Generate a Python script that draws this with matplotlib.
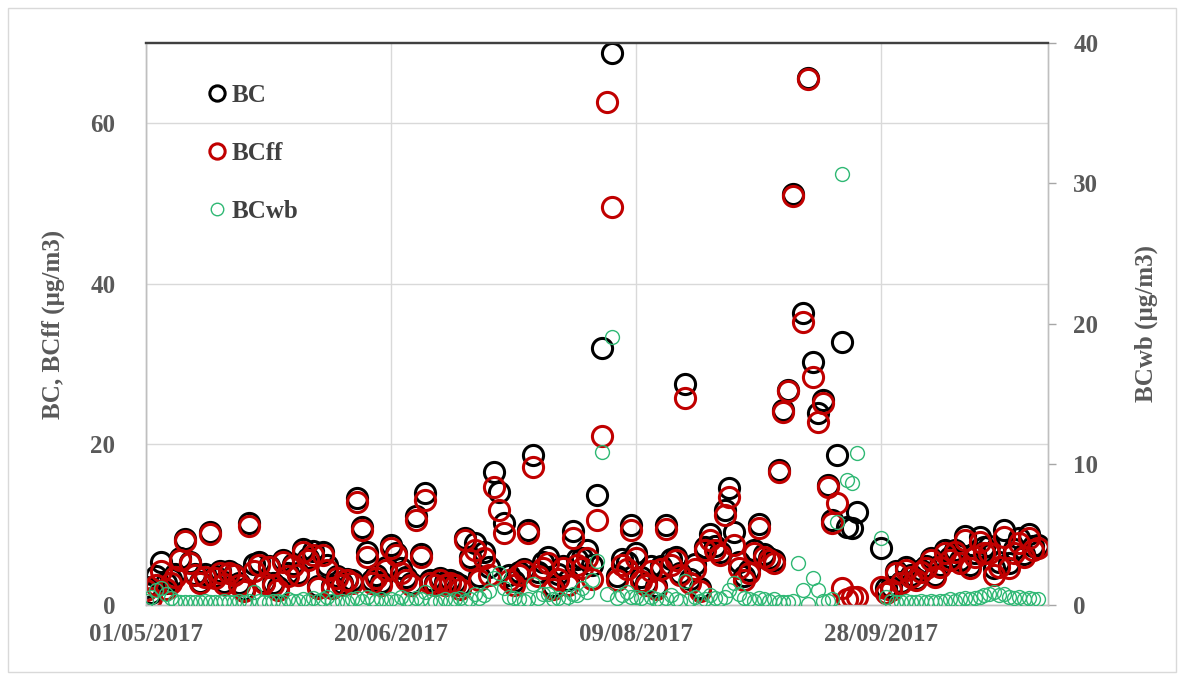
import numpy as np
import pandas as pd
import matplotlib
matplotlib.use("Agg")
import matplotlib.pyplot as plt
import matplotlib.dates as mdates
from matplotlib.lines import Line2D
from matplotlib.patches import Rectangle

# ─── DATA (daily, 01/05/2017 .. 30/10/2017, nan = no measurement) ──────────────
nan = np.nan
dates = pd.date_range("2017-05-01", "2017-10-30", freq="D")

bc = [
    2.2, 1.5, 3.6, 5.4, 2.8, 3.2, 3.8, 5.8, 8.2, 5.4,
    3.9, 2.9, 3.8, 9.1, 3.6, 4.2, 2.9, 4.2, 3.9, 2.8,
    2.0, 10.2, 5.1, 5.3, 2.9, 4.9, 2.8, 2.2, 5.6, 4.0,
    5.1, 4.0, 7.0, 5.9, 6.7, 2.4, 6.6, 5.0, 2.4, 3.6,
    2.8, 3.3, 3.1, 13.3, 9.7, 6.6, 3.1, 3.7, 2.9, 4.7,
    7.5, 6.5, 4.6, 3.5, 2.8, 11.1, 6.4, 14.0, 3.1, 2.7,
    3.4, 2.9, 3.1, 2.9, 2.5, 8.4, 6.0, 7.7, 3.6, 6.6,
    4.7, 16.6, 14.1, 10.2, 3.7, 3.0, 4.1, 4.5, 9.4, 18.7,
    4.1, 5.4, 6.0, 2.4, 3.8, 4.9, 3.1, 9.2, 5.7, 5.8,
    6.8, 5.0, 13.7, 32.0, nan, 68.7, 3.6, 5.7, 5.4, 10.0,
    6.5, 3.5, 2.8, 4.8, 2.4, 4.8, 10.0, 5.7, 6.0, 4.0,
    27.5, 3.2, 5.1, 2.1, 7.2, 8.8, 7.4, 6.6, 11.8, 14.6,
    9.1, 5.4, 3.6, 4.4, 6.8, 10.1, 6.4, 5.9, 5.6, 16.8,
    24.3, 26.8, 51.2, nan, 36.4, 65.6, 30.3, 23.9, 25.5, 15.0,
    10.6, 18.7, 32.8, 9.7, 9.6, 11.6, nan, nan, nan, nan,
    7.1, 2.1, 2.2, 4.2, 2.9, 4.7, 3.7, 3.3, 4.4, 4.8,
    5.9, 3.7, 5.0, 6.8, 6.0, 6.9, 5.6, 8.6, 5.0, 6.5,
    8.5, 7.2, 7.3, 4.6, 5.4, 9.3, 5.2, 7.0, 8.3, 6.4,
    8.9, 7.3, 7.5,
]

bcff = [
    1.9, 0.9, 2.5, 4.2, 2.0, 2.7, 3.5, 5.6, 8.0, 5.2,
    3.7, 2.7, 3.5, 8.9, 3.4, 4.0, 2.6, 4.0, 3.7, 2.5,
    1.8, 9.9, 4.2, 5.0, 2.7, 4.7, 2.5, 1.9, 5.4, 3.6,
    4.8, 3.7, 6.6, 5.6, 6.2, 2.1, 6.2, 4.4, 2.1, 3.4,
    2.5, 3.1, 2.7, 12.8, 9.4, 6.0, 2.7, 3.4, 2.5, 4.4,
    7.1, 6.2, 4.0, 3.1, 2.5, 10.6, 6.0, 13.1, 2.8, 2.5,
    3.1, 2.5, 2.8, 2.5, 2.0, 8.1, 5.6, 6.9, 3.1, 5.9,
    3.7, 14.7, 11.8, 9.0, 3.1, 2.5, 3.7, 4.2, 9.0, 17.2,
    3.6, 4.6, 5.2, 2.0, 3.3, 4.6, 2.5, 8.4, 5.0, 4.6,
    5.9, 3.2, 10.6, 21.0, 62.7, 49.6, 3.1, 5.0, 4.5, 9.4,
    5.9, 3.0, 2.5, 4.2, 2.0, 4.5, 9.5, 5.0, 5.6, 3.7,
    25.8, 2.8, 4.5, 1.8, 6.8, 8.1, 6.9, 6.2, 11.2, 13.5,
    7.5, 4.6, 3.1, 4.0, 6.5, 9.6, 6.0, 5.6, 5.2, 16.6,
    24.1, 26.6, 50.9, nan, 35.3, 65.5, 28.4, 22.8, 25.2, 14.7,
    10.2, 12.7, 2.1, 0.8, 1.0, 1.0, nan, nan, nan, nan,
    2.2, 1.5, 1.9, 4.0, 2.7, 4.4, 3.5, 3.1, 4.1, 4.6,
    5.6, 3.5, 4.7, 6.5, 5.6, 6.6, 5.2, 8.1, 4.6, 6.0,
    7.9, 6.5, 6.5, 3.7, 4.7, 8.5, 4.6, 6.5, 7.7, 6.0,
    8.4, 6.9, 7.1,
]

bcwb = [
    0.3, 0.6, 1.1, 1.2, 0.8, 0.5, 0.3, 0.2, 0.2, 0.2,
    0.2, 0.2, 0.3, 0.2, 0.2, 0.2, 0.3, 0.2, 0.2, 0.3,
    0.2, 0.3, 0.9, 0.3, 0.2, 0.2, 0.3, 0.3, 0.2, 0.4,
    0.3, 0.3, 0.4, 0.3, 0.5, 0.3, 0.4, 0.6, 0.3, 0.2,
    0.3, 0.2, 0.4, 0.5, 0.3, 0.6, 0.4, 0.3, 0.4, 0.3,
    0.4, 0.3, 0.6, 0.4, 0.3, 0.5, 0.4, 0.9, 0.3, 0.2,
    0.3, 0.4, 0.3, 0.4, 0.5, 0.3, 0.4, 0.8, 0.5, 0.7,
    1.0, 1.9, 2.3, 1.2, 0.6, 0.5, 0.4, 0.3, 0.4, 1.5,
    0.5, 0.8, 0.8, 0.4, 0.5, 0.3, 0.6, 0.8, 0.7, 1.2,
    0.9, 1.8, 3.1, 10.9, 0.8, 19.1, 0.5, 0.7, 0.9, 0.6,
    0.6, 0.5, 0.3, 0.6, 0.4, 0.3, 0.5, 0.7, 0.4, 0.3,
    1.7, 0.4, 0.6, 0.3, 0.4, 0.7, 0.5, 0.4, 0.6, 1.1,
    1.6, 0.8, 0.5, 0.4, 0.3, 0.5, 0.4, 0.3, 0.4, 0.2,
    0.2, 0.2, 0.3, 3.0, 1.1, 0.1, 1.9, 1.1, 0.3, 0.3,
    0.4, 5.9, 30.7, 8.9, 8.7, 10.8, nan, nan, nan, nan,
    4.8, 0.6, 0.3, 0.2, 0.2, 0.3, 0.2, 0.2, 0.3, 0.2,
    0.3, 0.2, 0.3, 0.3, 0.4, 0.3, 0.4, 0.5, 0.4, 0.5,
    0.6, 0.7, 0.8, 0.9, 0.7, 0.8, 0.6, 0.5, 0.6, 0.4,
    0.5, 0.4, 0.4,
]

tick_dates = pd.to_datetime(["2017-05-01", "2017-06-20", "2017-08-09", "2017-09-28"])

# ─── STYLE ─────────────────────────────────────────────────────────────────────
plt.rcParams["font.family"] = ["Liberation Serif", "DejaVu Serif"]
plt.rcParams["font.weight"] = "bold"
TXT = "#595959"
GRID = "#d9d9d9"
RED = "#c00000"
GREEN = "#2fb874"
FS = 18

fig = plt.figure(figsize=(11.84, 6.8), dpi=100)
fig.patches.append(Rectangle((0.007, 0.012), 0.986, 0.976, transform=fig.transFigure,
                             fill=False, edgecolor=GRID, linewidth=1.0))

ax = fig.add_axes([0.1233, 0.1103, 0.7620, 0.8265])
ax2 = ax.twinx()

ax.plot(dates, bc, linestyle="none", marker="o", markersize=14.5, markerfacecolor="none",
        markeredgecolor="black", markeredgewidth=2.2, zorder=3)
ax.plot(dates, bcff, linestyle="none", marker="o", markersize=14.5, markerfacecolor="none",
        markeredgecolor=RED, markeredgewidth=2.2, zorder=4)
ax2.plot(dates, bcwb, linestyle="none", marker="o", markersize=10, markerfacecolor="none",
         markeredgecolor=GREEN, markeredgewidth=1.0, zorder=5)

# axes limits and ticks
ax.set_xlim(pd.Timestamp("2017-05-01"), pd.Timestamp("2017-11-01"))
ax.set_ylim(0, 70)
ax2.set_ylim(0, 40)
ax.set_yticks([0, 20, 40, 60])
ax2.set_yticks([0, 10, 20, 30, 40])
ax.set_xticks(tick_dates)
ax.xaxis.set_major_formatter(mdates.DateFormatter("%d/%m/%Y"))

ax.tick_params(axis="y", length=0, pad=22, labelsize=FS, labelcolor=TXT)
ax.tick_params(axis="x", length=0, pad=13, labelsize=FS, labelcolor=TXT)
ax2.tick_params(axis="y", length=6, width=1, color="#a6a6a6", pad=12, labelsize=FS,
                labelcolor=TXT)

# gridlines
ax.grid(True, color=GRID, linewidth=1.0)
ax.set_axisbelow(True)

# spines
for a in (ax, ax2):
    for side in ("left", "right", "bottom"):
        a.spines[side].set_color("#bfbfbf")
        a.spines[side].set_linewidth(1.0)
    a.spines["top"].set_color("#404040")
    a.spines["top"].set_linewidth(1.6)

ax.set_ylabel("BC, BCff (µg/m3)", fontsize=FS, fontweight="bold", color=TXT, labelpad=18)
ax2.set_ylabel("BCwb (µg/m3)", fontsize=FS, fontweight="bold", color=TXT, labelpad=26)

# legend
handles = [
    Line2D([], [], linestyle="none", marker="o", markersize=11, markerfacecolor="none",
           markeredgecolor="black", markeredgewidth=2.2),
    Line2D([], [], linestyle="none", marker="o", markersize=11, markerfacecolor="none",
           markeredgecolor=RED, markeredgewidth=2.2),
    Line2D([], [], linestyle="none", marker="o", markersize=9, markerfacecolor="none",
           markeredgecolor=GREEN, markeredgewidth=1.0),
]
leg = ax2.legend(handles, ["BC", "BCff", "BCwb"], loc="upper left",
                 bbox_to_anchor=(0.055, 0.945), frameon=False, fontsize=FS,
                 labelspacing=1.4, handlelength=0.9, handletextpad=0.15,
                 borderaxespad=0)
for t in leg.get_texts():
    t.set_color("#404040")

fig.savefig("out.png", dpi=100)
